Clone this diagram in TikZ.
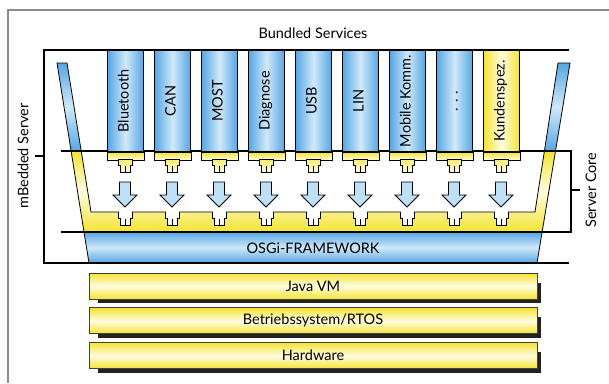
\documentclass[tikz,border=0pt]{standalone}
\usepackage{fontspec}
\setmainfont{Lato}
\usetikzlibrary{positioning,backgrounds}

\definecolor{svcblue}{RGB}{86,166,226}
\definecolor{svclight}{RGB}{208,233,250}
\definecolor{svcyellow}{RGB}{244,228,50}
\definecolor{svcpale}{RGB}{255,252,225}
\definecolor{framegray}{RGB}{140,140,140}
\definecolor{shadowgray}{RGB}{34,34,34}

\tikzset{
  bracketline/.style={line width=2pt, black},
  thinline/.style={line width=0.8pt, black},
  bluefade/.style={top color=svcblue, bottom color=svcblue, middle color=svclight},
  yellowfade/.style={top color=svcyellow, bottom color=svcyellow, middle color=svcpale},
  svcbox/.style={draw=black, line width=1pt, inner sep=0pt,
    minimum width=36pt, minimum height=101pt},
  layerbox/.style={draw=black!75, line width=0.8pt, inner sep=0pt,
    minimum width=448pt, minimum height=26pt, yellowfade},
  layergap/.style={node distance=8pt}
}

% plug with two prongs, centre x, top y, fill options
\newcommand{\plugat}[3]{%
  \filldraw[thinline, #3] (#1-7,#2) -- (#1+7,#2) -- (#1+7,#2+6) -- (#1+5,#2+6)
    -- (#1+5,#2+13) -- (#1-5,#2+13) -- (#1-5,#2+6) -- (#1-7,#2+6) -- cycle;
  \draw[thinline] (#1,#2+7) -- (#1,#2+13);
}

\begin{document}
\begin{tikzpicture}[x=1pt, y=-1pt, font=\fontsize{14.5}{16}\selectfont]
  \useasboundingbox (0,0) rectangle (609,383);
  \draw[framegray, line width=1.5pt] (8,383) -- (8,10) -- (609,10);

  % side bars, basin and framework
  \draw[thinline, bluefade]
    (57,63) -- (67,63) -- (81.2,151) -- (71.1,151) -- cycle;
  \draw[thinline, bluefade]
    (558,63) -- (570,63) -- (555.5,151) -- (544.4,151) -- cycle;
  \draw[thinline, yellowfade]
    (71.1,151) -- (84,232) -- (542.1,232) -- (555.5,151) -- (544.4,151)
    -- (535,212) -- (91,212) -- (81.2,151) -- cycle;
  \draw[thinline, bluefade]
    (84,232) -- (542.1,232) -- (537,263) -- (89,263) -- cycle;

  % brackets
  \draw[bracketline] (569,50) -- (44,50) -- (44,263) -- (569,263);
  \draw[bracketline] (35,156) -- (44,156);
  \draw[bracketline] (61,151) -- (571,151) -- (571,232) -- (61,232);
  \draw[bracketline] (571,190) -- (580,190);

  \node (bundled) at (313,33) {Bundled Services};
  \node[rotate=90] (mbedded) at (23,156) {mBedded Server};
  \node[rotate=90] (servercore) at (591,190) {Server Core};
  \node (osgi) at (313,248) {OSGi-FRAMEWORK};

  % bundles
  \foreach \nm/\txt/\edge/\mid [count=\i from 0] in {
      bluetooth/Bluetooth/svcblue/svclight, can/CAN/svcblue/svclight,
      most/MOST/svcblue/svclight, diagnose/Diagnose/svcblue/svclight,
      usb/USB/svcblue/svclight, lin/LIN/svcblue/svclight,
      mobile/Mobile Komm./svcblue/svclight, more/. . ./svcblue/svclight,
      custom/Kundenspez./svcyellow/svcpale}{
    \pgfmathsetmacro{\x}{107+47*\i}
    \pgfmathsetmacro{\cx}{\x+18}
    \node[svcbox, anchor=north west, left color=\edge, right color=\edge,
      middle color=\mid] (\nm) at (\x,50) {\rotatebox{90}{\strut\txt}};
    \draw[line width=1pt, top color=svcyellow, bottom color=svcpale]
      (\nm.south west) rectangle ([yshift=-8pt]\nm.south east);
    \plugat{\cx}{159}{top color=svcyellow!70, bottom color=svcpale}
    \filldraw[thinline, fill=svclight!85!svcblue] (\cx-5.5,182) -- (\cx+5.5,182)
      -- (\cx+5.5,195) -- (\cx+12,195) -- (\cx,207) -- (\cx-12,195)
      -- (\cx-5.5,195) -- cycle;
    \plugat{\cx}{212}{fill=white}
    \fill[white] (\cx-6.5,210.8) rectangle (\cx+6.5,213);
  }

  % platform layers
  \node[layerbox] (javavm) at (313,286) {Java VM};
  \node[layerbox, layergap, below=of javavm] (rtos) {Betriebssystem/RTOS};
  \node[layerbox, layergap, below=of rtos] (hardware) {Hardware};
  \begin{scope}[on background layer]
    \foreach \ly in {javavm, rtos, hardware}
      \fill[shadowgray] ([xshift=9pt, yshift=-10pt]\ly.north west)
        rectangle ([xshift=4pt, yshift=-4pt]\ly.south east);
  \end{scope}
\end{tikzpicture}
\end{document}
